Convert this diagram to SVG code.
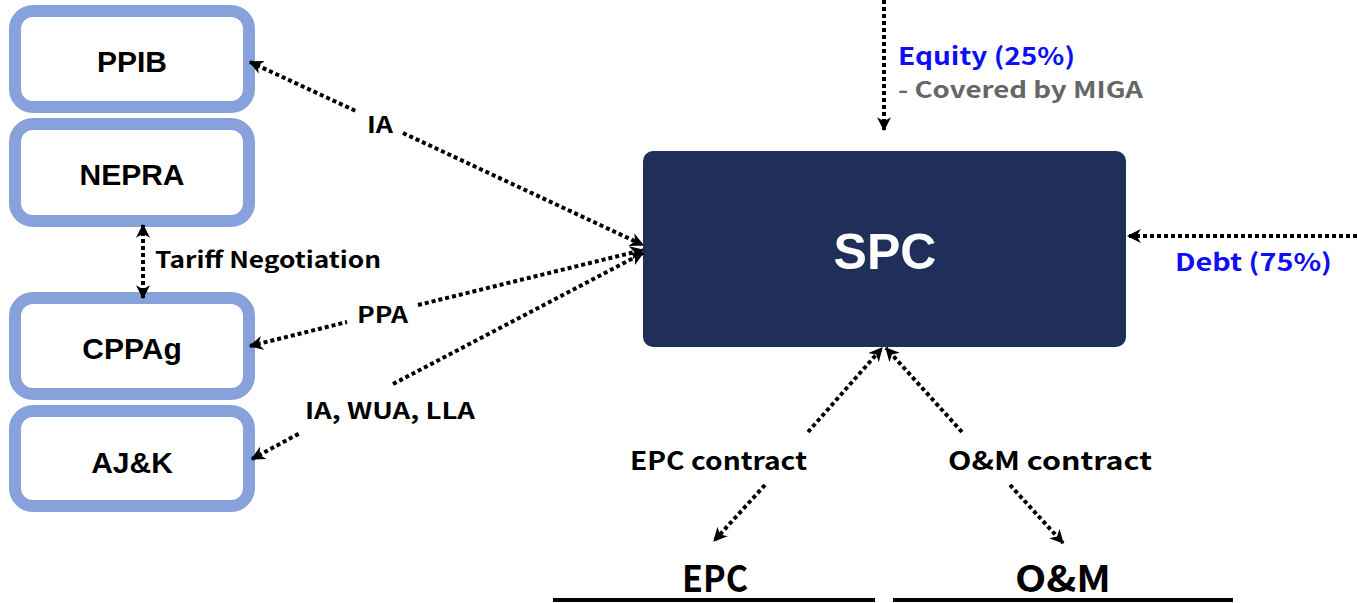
<svg xmlns="http://www.w3.org/2000/svg" width="1357" height="603" viewBox="0 0 1357 603">
<style>
.box{fill:#fff;stroke:#87A2DB;stroke-width:12}
.nt{font-family:"Liberation Sans",Arial,sans-serif;font-weight:bold;font-size:30px;fill:#000;text-anchor:middle}
.lb{font-family:"Noto Sans CJK KR","Noto Sans",sans-serif;font-weight:bold;font-size:22px;fill:#000}
.ln{fill:none;stroke:#000;stroke-width:4;stroke-dasharray:4 3}
.blue{fill:#0F0FF5}
.gray{fill:#666}
</style>
<defs>
<marker id="ah" viewBox="0 0 12 12" refX="11" refY="6" markerWidth="14" markerHeight="14" markerUnits="userSpaceOnUse" orient="auto-start-reverse">
<path d="M0,0 L12,6 L0,12 L3.5,6 z" fill="#000"/>
</marker>
</defs>
<g id="PPIB"><rect class="box" x="15" y="11" width="234" height="96" rx="18"/><text class="nt" x="132" y="72">PPIB</text></g>
<g id="NEPRA"><rect class="box" x="15" y="124" width="234" height="97" rx="18"/><text class="nt" x="132" y="185">NEPRA</text></g>
<g id="CPPAg"><rect class="box" x="15" y="298" width="234" height="96" rx="18"/><text class="nt" x="132" y="359">CPPAg</text></g>
<g id="AJK"><rect class="box" x="15" y="411" width="234" height="95" rx="18"/><text class="nt" x="132" y="473">AJ&amp;K</text></g>
<g id="SPC"><rect x="643" y="151" width="483" height="196" rx="10" fill="#1F2F5A"/><text x="885" y="269" font-family="Liberation Sans,Arial,sans-serif" font-weight="bold" font-size="50" fill="#fff" text-anchor="middle">SPC</text></g>
<g id="EPC"><text class="lb" x="715" y="592" style="font-size:36px" text-anchor="middle" textLength="66" lengthAdjust="spacingAndGlyphs">EPC</text><line x1="553" y1="600" x2="875" y2="600" stroke="#000" stroke-width="4"/></g>
<g id="OM"><text class="lb" x="1063" y="592" style="font-size:36px" text-anchor="middle" textLength="96" lengthAdjust="spacingAndGlyphs">O&amp;M</text><line x1="893" y1="600" x2="1233" y2="600" stroke="#000" stroke-width="4"/></g>
<g id="connectors">
<line class="ln" x1="884" y1="0" x2="884" y2="130" marker-end="url(#ah)"/>
<line class="ln" x1="1357" y1="236" x2="1128" y2="236" marker-end="url(#ah)"/>
<line class="ln" x1="250" y1="62" x2="358" y2="112" marker-start="url(#ah)"/>
<line class="ln" x1="403" y1="133" x2="643" y2="245" marker-end="url(#ah)"/>
<line class="ln" x1="250" y1="346" x2="347" y2="322" marker-start="url(#ah)"/>
<line class="ln" x1="418" y1="305" x2="643" y2="250" marker-end="url(#ah)"/>
<line class="ln" x1="252" y1="459" x2="300" y2="433" marker-start="url(#ah)"/>
<line class="ln" x1="393" y1="384" x2="643" y2="253" marker-end="url(#ah)"/>
<line class="ln" x1="143" y1="225" x2="143" y2="298" marker-start="url(#ah)" marker-end="url(#ah)"/>
<line class="ln" x1="808" y1="432" x2="882" y2="348" marker-end="url(#ah)"/>
<line class="ln" x1="962" y1="432" x2="886" y2="348" marker-end="url(#ah)"/>
<line class="ln" x1="765" y1="485" x2="714" y2="541" marker-end="url(#ah)"/>
<line class="ln" x1="1010" y1="485" x2="1063" y2="543" marker-end="url(#ah)"/>
<text class="lb" x="367" y="133" textLength="26" lengthAdjust="spacingAndGlyphs">IA</text>
<text class="lb" x="155" y="268" textLength="226" lengthAdjust="spacingAndGlyphs">Tariff Negotiation</text>
<text class="lb" x="357" y="323" textLength="51" lengthAdjust="spacingAndGlyphs">PPA</text>
<text class="lb" x="305" y="419" textLength="170" lengthAdjust="spacingAndGlyphs">IA, WUA, LLA</text>
<text class="lb" x="630" y="470" style="font-size:25px" textLength="177" lengthAdjust="spacingAndGlyphs">EPC contract</text>
<text class="lb" x="948" y="470" style="font-size:25px" textLength="204" lengthAdjust="spacingAndGlyphs">O&amp;M contract</text>
<text class="lb blue" x="898" y="65" style="font-size:24px" textLength="177" lengthAdjust="spacingAndGlyphs">Equity (25%)</text>
<text class="lb gray" x="898" y="98" textLength="245" lengthAdjust="spacingAndGlyphs">- Covered by MIGA</text>
<text class="lb blue" x="1175" y="271" style="font-size:24px" textLength="157" lengthAdjust="spacingAndGlyphs">Debt (75%)</text>
</g>
</svg>
